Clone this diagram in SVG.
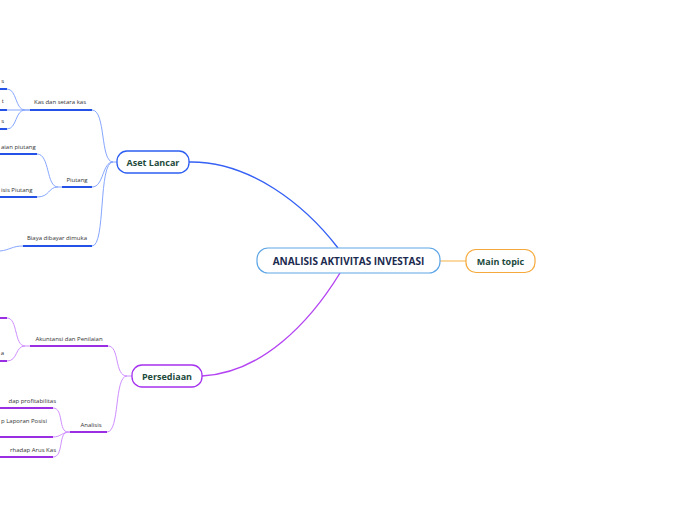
<svg xmlns="http://www.w3.org/2000/svg" width="696" height="520" viewBox="0 0 696 520">
<style>
.bg{fill:#ffffff}
.t{font-family:"Open Sans","DejaVu Sans",sans-serif;font-size:6px;fill:#333333}
.nt{font-family:"Open Sans","DejaVu Sans",sans-serif;font-weight:bold;font-size:9px;fill:#1d4a3c;text-anchor:middle;dominant-baseline:central}
.ct{font-family:"Open Sans","DejaVu Sans",sans-serif;font-weight:bold;font-size:10px;fill:#1b2a4e;text-anchor:middle;dominant-baseline:central}
.bm{fill:none;stroke:#3560f5;stroke-width:1.4}
.bc{fill:none;stroke:#86a6ff;stroke-width:1}
.bu{fill:none;stroke:#2452e6;stroke-width:2}
.pm{fill:none;stroke:#b444f2;stroke-width:1.4}
.pc{fill:none;stroke:#cf8eff;stroke-width:1}
.pu{fill:none;stroke:#9a2ee2;stroke-width:2}
.end{text-anchor:end}
.mid{text-anchor:middle}
</style>
<rect class="bg" x="0" y="0" width="696" height="520"/>
<g id="connectors">
  <path class="bm" d="M189,162 C250,161 305,205 338,248"/>
  <path class="pm" d="M202,376 C262,373 310,322 340,273"/>
  <path d="M440,261 L466,261" fill="none" stroke="#f8c77c" stroke-width="1.4"/>
  <path class="bc" d="M92,110 C106,110 100,162 113,162 L117,162"/>
  <path class="bc" d="M92,187 C104,187 102,162 113,162"/>
  <path class="bc" d="M92,246 C106,246 98,162 113,162"/>
  <path class="bu" d="M30,110 L92,110"/>
  <path class="bu" d="M62,187 L92,187"/>
  <path class="bu" d="M23,246 L92,246"/>
  <path class="bc" d="M7,89 C17,89 15,110 25,110 L30,110"/>
  <path class="bc" d="M7,110 L30,110"/>
  <path class="bc" d="M7,129 C17,129 15,110 25,110"/>
  <path class="bu" d="M0,89 L7,89"/>
  <path class="bu" d="M0,110 L7,110"/>
  <path class="bu" d="M0,129 L7,129"/>
  <path class="bc" d="M37,154 C50,154 46,187 58,187 L62,187"/>
  <path class="bc" d="M37,197 C50,197 48,187 58,187"/>
  <path class="bu" d="M0,154 L37,154"/>
  <path class="bu" d="M0,197 L37,197"/>
  <path class="bc" d="M0,251 C10,250 12,246 23,246"/>
  <path class="pc" d="M108,346 C120,346 114,376 127,376 L132,376"/>
  <path class="pc" d="M107,432 C120,432 114,376 127,376"/>
  <path class="pu" d="M30,346 L108,346"/>
  <path class="pu" d="M70,432 L107,432"/>
  <path class="pc" d="M7,318 C18,318 14,346 25,346 L30,346"/>
  <path class="pc" d="M7,361 C18,361 15,346 25,346"/>
  <path class="pu" d="M0,318 L7,318"/>
  <path class="pu" d="M0,361 L7,361"/>
  <path class="pc" d="M53,408 C64,408 58,432 68,432 L70,432"/>
  <path class="pc" d="M53,437 C61,437 62,432 70,432"/>
  <path class="pc" d="M53,457 C64,457 58,432 68,432"/>
  <path class="pu" d="M0,408 L53,408"/>
  <path class="pu" d="M0,437 L53,437"/>
  <path class="pu" d="M0,457 L53,457"/>
</g>
<g id="central">
  <rect x="257" y="248" width="183" height="25" rx="11" fill="#ffffff" stroke="#5ea6e6" stroke-width="1.2"/>
  <text class="ct" x="348.5" y="261">ANALISIS AKTIVITAS INVESTASI</text>
</g>
<g id="main-topic">
  <rect x="466" y="249.5" width="69" height="23" rx="10" fill="#ffffff" stroke="#f6a93a" stroke-width="1.2"/>
  <text class="nt" x="500.5" y="261">Main topic</text>
</g>
<g id="aset-lancar">
  <rect x="117" y="151" width="72" height="22" rx="10" fill="#ffffff" stroke="#2d5ef2" stroke-width="1.3"/>
  <text class="nt" x="153" y="162">Aset Lancar</text>
</g>
<g id="persediaan">
  <rect x="132" y="365" width="70" height="22" rx="10" fill="#ffffff" stroke="#a532ee" stroke-width="1.3"/>
  <text class="nt" x="167" y="376">Persediaan</text>
</g>
<g id="kas"><text class="t mid" x="60" y="104">Kas dan setara kas</text></g>
<g id="kas-c1"><text class="t end" x="4" y="83">s</text></g>
<g id="kas-c2"><text class="t end" x="4" y="103">t</text></g>
<g id="kas-c3"><text class="t end" x="4" y="123">s</text></g>
<g id="piutang"><text class="t mid" x="77" y="182">Piutang</text></g>
<g id="piutang-c1"><text class="t" x="1" y="149">aian piutang</text></g>
<g id="piutang-c2"><text class="t" x="1" y="192">isis Piutang</text></g>
<g id="biaya"><text class="t mid" x="57" y="240">Biaya dibayar dimuka</text></g>
<g id="akuntansi"><text class="t mid" x="69" y="341">Akuntansi dan Penilaian</text></g>
<g id="akuntansi-c2"><text class="t end" x="4" y="355">a</text></g>
<g id="analisis"><text class="t mid" x="91" y="427">Analisis</text></g>
<g id="analisis-c1"><text class="t end" x="56" y="403">dap profitabilitas</text></g>
<g id="analisis-c2"><text class="t" x="1" y="423">p Laporan Posisi</text></g>
<g id="analisis-c3"><text class="t end" x="56" y="452">rhadap Arus Kas</text></g>
</svg>
